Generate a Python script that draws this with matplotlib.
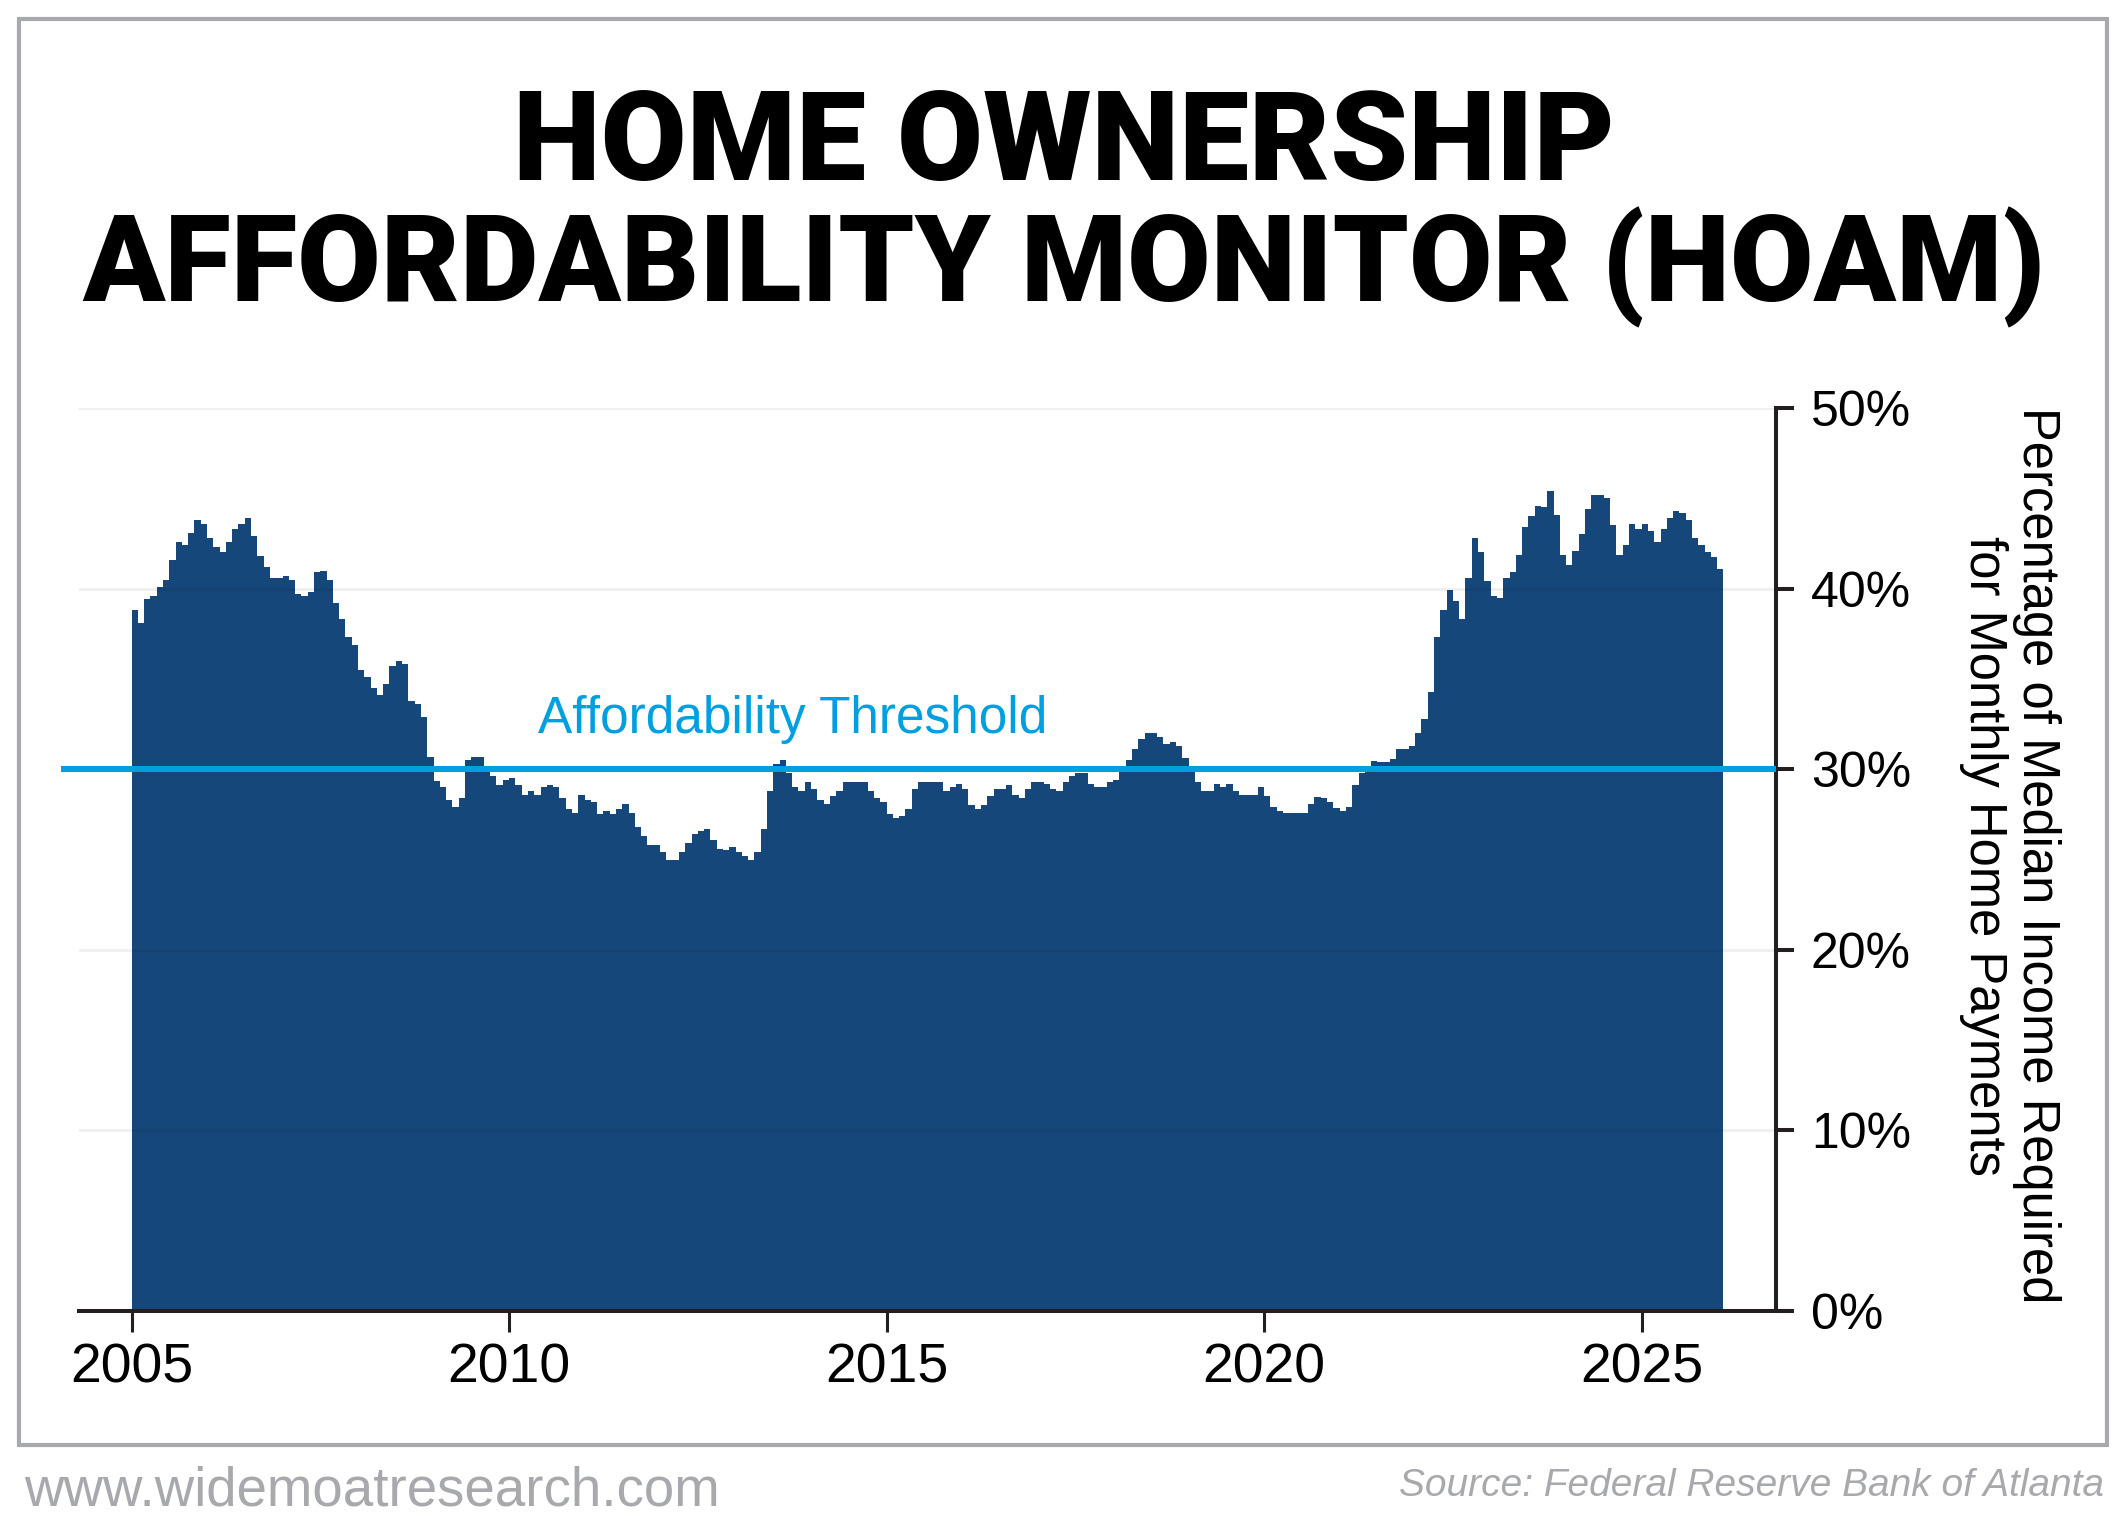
import numpy as np
import matplotlib.pyplot as plt

# HOAM monthly values, Jan 2005 .. Jan 2026
start_year = 2005
hoam_pct = [
    38.8, 38.1, 39.4, 39.6, 40.1, 40.5, 41.6, 42.6, 42.4, 43.1, 43.8, 43.6,
    42.8, 42.3, 42.0, 42.6, 43.3, 43.6, 43.9, 42.9, 41.8, 41.2, 40.6, 40.6,
    40.7, 40.5, 39.7, 39.6, 39.8, 40.9, 41.0, 40.5, 39.2, 38.3, 37.3, 36.9,
    35.5, 35.1, 34.5, 34.1, 34.7, 35.7, 36.0, 35.8, 33.8, 33.6, 32.9, 30.7,
    29.35, 29.0, 28.3, 27.9, 28.4, 30.5, 30.7, 30.7, 30.0, 29.6, 29.1, 29.4,
    29.5, 29.1, 28.6, 28.8, 28.6, 29.0, 29.1, 29.0, 28.4, 27.8, 27.6, 28.6,
    28.3, 28.2, 27.5, 27.7, 27.5, 27.8, 28.1, 27.6, 26.8, 26.3, 25.8, 25.8,
    25.4, 25.0, 25.0, 25.4, 25.9, 26.4, 26.6, 26.7, 26.1, 25.6, 25.5, 25.7,
    25.4, 25.2, 25.0, 25.4, 26.7, 28.8, 30.3, 30.5, 29.8, 29.0, 28.8, 29.3,
    28.9, 28.3, 28.1, 28.5, 28.8, 29.3, 29.3, 29.3, 29.3, 28.8, 28.4, 28.2,
    27.5, 27.3, 27.4, 27.8, 28.9, 29.3, 29.3, 29.3, 29.3, 28.8, 29.0, 29.2,
    28.9, 28.0, 27.8, 28.0, 28.5, 28.9, 28.9, 29.1, 28.6, 28.4, 28.9, 29.3,
    29.3, 29.2, 28.9, 28.8, 29.3, 29.6, 29.8, 29.8, 29.2, 29.0, 29.0, 29.3,
    29.4, 29.9, 30.5, 31.1, 31.7, 32.0, 32.0, 31.8, 31.4, 31.5, 31.3, 30.6,
    30.1, 29.3, 28.8, 28.8, 29.2, 29.0, 29.2, 28.8, 28.6, 28.6, 28.6, 29.0,
    28.5, 27.9, 27.7, 27.6, 27.6, 27.55, 27.6, 28.1, 28.45, 28.4, 28.2, 27.85,
    27.7, 27.9, 29.1, 29.8, 29.9, 30.45, 30.4, 30.4, 30.55, 31.1, 31.1, 31.3,
    32.0, 32.8, 34.3, 37.3, 38.8, 39.9, 39.3, 38.3, 40.6, 42.8, 42.0, 40.4,
    39.6, 39.5, 40.6, 40.9, 41.85, 43.4, 44.0, 44.6, 44.5, 45.4, 44.1, 41.85,
    41.3, 42.1, 43.0, 44.4, 45.2, 45.2, 45.0, 43.5, 41.85, 42.4, 43.55, 43.3,
    43.6, 43.2, 42.6, 43.3, 43.9, 44.3, 44.2, 43.8, 42.8, 42.4, 42.0, 41.75,
    41.1,
]
threshold = 30
year_ticks = [2005, 2010, 2015, 2020, 2025]
pct_ticks = [0, 10, 20, 30, 40, 50]

navy = '#16477a'
cyan = '#009fdf'
dark = '#231f20'
grey = '#a7a9ac'

edges = start_year + np.arange(len(hoam_pct) + 1) / 12

fig = plt.figure(figsize=(21.26, 15.35), dpi=100)
ax = fig.add_axes([0.0370, 0.1459, 0.7984, 0.5883])

ax.stairs(hoam_pct, edges, fill=True, color=navy, linewidth=0, zorder=2)

ax.set_xlim(2004.30, 2026.78)
ax.set_ylim(0, 50)

# thin grid lines over the fill
for p in pct_ticks[1:]:
    ax.axhline(p, color='black', alpha=0.06, linewidth=2.2, zorder=3)

# affordability threshold
ax.plot([2004.07, 2026.78], [threshold, threshold], color=cyan,
        linewidth=4.3, zorder=4, clip_on=False, solid_capstyle='butt')
ax.text(2010.38, 32.0, 'Affordability Threshold', color=cyan,
        fontsize=37, family='Liberation Sans', ha='left', va='baseline')

for s in ['left', 'top']:
    ax.spines[s].set_visible(False)
ax.spines['right'].set_color(dark)
ax.spines['right'].set_linewidth(2.9)
ax.spines['bottom'].set_color(dark)
ax.spines['bottom'].set_linewidth(2.9)
ax.spines['bottom'].set_bounds(2004.30, 2026.95)
ax.spines['bottom'].set_zorder(5)

ax.yaxis.tick_right()
ax.set_yticks(pct_ticks)
ax.set_yticklabels([f'{p}%' for p in pct_ticks])
ax.set_xticks(year_ticks)
ax.set_xticklabels([str(y) for y in year_ticks])
ax.tick_params(axis='y', direction='out', length=13, width=2.9, color=dark,
               pad=12, labelsize=36, labelcolor='black')
ax.tick_params(axis='x', direction='out', length=15, width=2.2, color=dark,
               pad=8, labelsize=40, labelcolor='black')
for lab in ax.get_xticklabels() + ax.get_yticklabels():
    lab.set_family('Liberation Sans')

fig.text(0.9454, 0.4426,
         'Percentage of Median Income Required\nfor Monthly Home Payments',
         rotation=270, ha='center', va='center', multialignment='center',
         fontsize=36.5, family='Liberation Sans', linespacing=1.1)

# title
t1 = fig.text(0.5005, 1 - 180 / 1535, 'HOME OWNERSHIP', ha='center',
              va='baseline', fontsize=90, weight='black',
              family=['Roboto', 'Lato', 'DejaVu Sans'])
t2 = fig.text(0.5005, 1 - 301 / 1535, 'AFFORDABILITY MONITOR (HOAM)',
              ha='center', va='baseline', fontsize=90, weight='black',
              family=['Roboto', 'Lato', 'DejaVu Sans'])
renderer = fig.canvas.get_renderer()
for txt, target in ((t1, 1101), (t2, 1961)):
    w = txt.get_window_extent(renderer).width
    txt.set_fontsize(txt.get_fontsize() * target / w)

# frame and footer
frame = plt.Rectangle((19 / 2126, 1 - 1445 / 1535), 2088 / 2126, 1426 / 1535,
                      transform=fig.transFigure, fill=False,
                      edgecolor=grey, linewidth=3)
fig.patches.append(frame)
fig.text(24 / 2126, 1 - 1505 / 1535, 'www.widemoatresearch.com', color=grey,
         fontsize=39.3, family='Liberation Sans', ha='left', va='baseline')
fig.text(2104 / 2126, 1 - 1496 / 1535,
         'Source: Federal Reserve Bank of Atlanta', color=grey,
         fontsize=28, style='italic', family='Liberation Sans',
         ha='right', va='baseline')

fig.savefig('out.png', dpi=100)
